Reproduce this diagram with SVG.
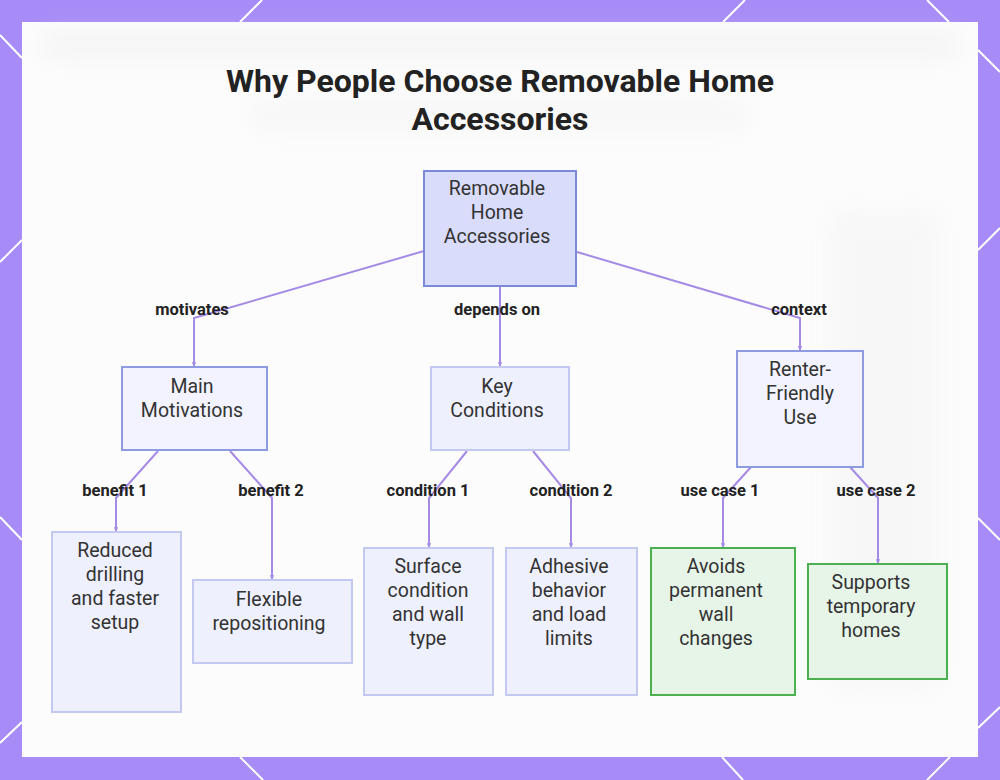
<svg xmlns="http://www.w3.org/2000/svg" width="1000" height="780" viewBox="0 0 1000 780">
  <defs>
    <style>
      .title { font-family: Roboto, "Liberation Sans", sans-serif; font-weight: 700; font-size: 32px; fill: #222222; text-anchor: middle; }
      .ntext { font-family: Roboto, "Liberation Sans", sans-serif; font-size: 19.5px; fill: #333333; text-anchor: middle; }
      .elabel { font-family: Roboto, "Liberation Sans", sans-serif; font-weight: 700; font-size: 16.5px; fill: #222222; text-anchor: middle; }
      .edge { fill: none; stroke: #A58BE6; stroke-width: 2; }
      .deco { stroke: #FFFFFF; stroke-width: 2; }
      .root { fill: #D9DCFB; stroke: #7C89D8; stroke-width: 2; }
      .mid { fill: #F2F3FE; stroke: #8E9BE2; stroke-width: 2; }
      .leaf { fill: #EEF0FD; stroke: #C3C9F1; stroke-width: 2; }
      .green { fill: #E7F5E9; stroke: #4CAF50; stroke-width: 2; }
    </style>
    <marker id="arr" viewBox="0 0 6 6" refX="5" refY="3" markerWidth="2.2" markerHeight="2.2" orient="auto">
      <path d="M0,0 L6,3 L0,6 z" fill="#A58BE6"/>
    </marker>
    <filter id="blur" x="-20%" y="-20%" width="140%" height="140%">
      <feGaussianBlur stdDeviation="12"/>
    </filter>
  </defs>

  <!-- background frame -->
  <rect x="0" y="0" width="1000" height="780" fill="#A78BF7"/>
  <g class="deco">
    <line x1="240" y1="22" x2="262" y2="0"/>
    <line x1="723" y1="22" x2="745" y2="0"/>
    <line x1="927" y1="0" x2="949" y2="22"/>
    <line x1="0" y1="35" x2="22" y2="58"/>
    <line x1="0" y1="262" x2="22" y2="240"/>
    <line x1="0" y1="517" x2="22" y2="540"/>
    <line x1="0" y1="743" x2="22" y2="722"/>
    <line x1="978" y1="50" x2="1000" y2="72"/>
    <line x1="978" y1="250" x2="1000" y2="228"/>
    <line x1="978" y1="518" x2="1000" y2="540"/>
    <line x1="978" y1="728" x2="1000" y2="707"/>
    <line x1="240" y1="757" x2="263" y2="780"/>
    <line x1="722" y1="757" x2="743" y2="780"/>
    <line x1="927" y1="780" x2="950" y2="757"/>
  </g>
  <rect x="22" y="22" width="956" height="735" fill="#FCFCFC"/>
  <g filter="url(#blur)" opacity="0.35">
    <rect x="40" y="32" width="920" height="26" rx="13" fill="#E6E6E6"/>
    <rect x="250" y="98" width="500" height="34" rx="15" fill="#EFEFEF"/>
    <rect x="830" y="210" width="110" height="480" fill="#EFEFEF"/>
  </g>

  <!-- title -->
  <text class="title" x="500" y="92">Why People Choose Removable Home</text>
  <text class="title" x="500" y="130">Accessories</text>

  <!-- connectors -->
  <g id="connectors">
    <polyline class="edge" points="424,251 194,318 194,366" marker-end="url(#arr)"/>
    <polyline class="edge" points="500,286 500,366" marker-end="url(#arr)"/>
    <polyline class="edge" points="577,252 800,318 800,350" marker-end="url(#arr)"/>
    <polyline class="edge" points="158,451 116,498 116,531" marker-end="url(#arr)"/>
    <polyline class="edge" points="230,451 272,498 272,579" marker-end="url(#arr)"/>
    <polyline class="edge" points="467,451 429,498 429,547" marker-end="url(#arr)"/>
    <polyline class="edge" points="533,451 571,498 571,547" marker-end="url(#arr)"/>
    <polyline class="edge" points="751,467 723,498 723,547" marker-end="url(#arr)"/>
    <polyline class="edge" points="850,467 878,498 878,563" marker-end="url(#arr)"/>
    <text class="elabel" x="192" y="315">motivates</text>
    <text class="elabel" x="497" y="315">depends on</text>
    <text class="elabel" x="799" y="315">context</text>
    <text class="elabel" x="115" y="496">benefit 1</text>
    <text class="elabel" x="271" y="496">benefit 2</text>
    <text class="elabel" x="428" y="496">condition 1</text>
    <text class="elabel" x="571" y="496">condition 2</text>
    <text class="elabel" x="720" y="496">use case 1</text>
    <text class="elabel" x="876" y="496">use case 2</text>
  </g>

  <!-- nodes -->
  <g id="root">
    <rect class="root" x="424" y="171" width="152" height="115"/>
    <text class="ntext" x="497" y="195">Removable</text>
    <text class="ntext" x="497" y="219">Home</text>
    <text class="ntext" x="497" y="243">Accessories</text>
  </g>
  <g id="motivations">
    <rect class="mid" x="122" y="367" width="145" height="83"/>
    <text class="ntext" x="192" y="393">Main</text>
    <text class="ntext" x="192" y="417">Motivations</text>
  </g>
  <g id="conditions">
    <rect class="leaf" x="431" y="367" width="138" height="83"/>
    <text class="ntext" x="497" y="393">Key</text>
    <text class="ntext" x="497" y="417">Conditions</text>
  </g>
  <g id="renter">
    <rect class="mid" x="737" y="351" width="126" height="116"/>
    <text class="ntext" x="800" y="376">Renter-</text>
    <text class="ntext" x="800" y="400">Friendly</text>
    <text class="ntext" x="800" y="424">Use</text>
  </g>
  <g id="reduced">
    <rect class="leaf" x="52" y="532" width="129" height="180"/>
    <text class="ntext" x="115" y="557">Reduced</text>
    <text class="ntext" x="115" y="581">drilling</text>
    <text class="ntext" x="115" y="605">and faster</text>
    <text class="ntext" x="115" y="629">setup</text>
  </g>
  <g id="flexible">
    <rect class="leaf" x="193" y="580" width="159" height="83"/>
    <text class="ntext" x="269" y="606">Flexible</text>
    <text class="ntext" x="269" y="630">repositioning</text>
  </g>
  <g id="surface">
    <rect class="leaf" x="364" y="548" width="129" height="147"/>
    <text class="ntext" x="428" y="573">Surface</text>
    <text class="ntext" x="428" y="597">condition</text>
    <text class="ntext" x="428" y="621">and wall</text>
    <text class="ntext" x="428" y="645">type</text>
  </g>
  <g id="adhesive">
    <rect class="leaf" x="506" y="548" width="131" height="147"/>
    <text class="ntext" x="569" y="573">Adhesive</text>
    <text class="ntext" x="569" y="597">behavior</text>
    <text class="ntext" x="569" y="621">and load</text>
    <text class="ntext" x="569" y="645">limits</text>
  </g>
  <g id="avoids">
    <rect class="green" x="651" y="548" width="144" height="147"/>
    <text class="ntext" x="716" y="573">Avoids</text>
    <text class="ntext" x="716" y="597">permanent</text>
    <text class="ntext" x="716" y="621">wall</text>
    <text class="ntext" x="716" y="645">changes</text>
  </g>
  <g id="supports">
    <rect class="green" x="808" y="564" width="139" height="115"/>
    <text class="ntext" x="871" y="589">Supports</text>
    <text class="ntext" x="871" y="613">temporary</text>
    <text class="ntext" x="871" y="637">homes</text>
  </g>
</svg>
